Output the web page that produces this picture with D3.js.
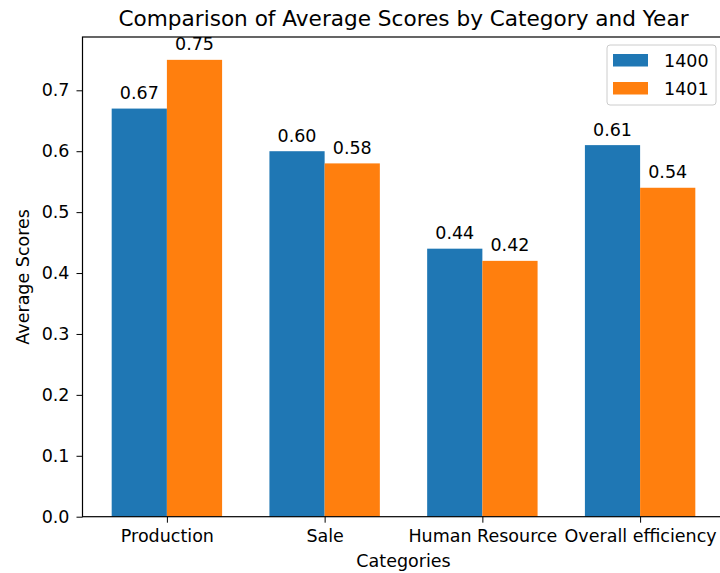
<!DOCTYPE html>
<html><head><meta charset="utf-8">
<script src="https://cdn.jsdelivr.net/npm/d3@7/dist/d3.min.js"></script>
<style>body{margin:0;background:#fff;} svg{display:block;font-family:"DejaVu Sans",sans-serif;}</style>
</head><body>
<svg id="c" width="720" height="573"></svg>
<script>
const categories = ["Production", "Sale", "Human Resource", "Overall efficiency"];
const years = ["1400", "1401"];
const values1400 = [0.67, 0.60, 0.44, 0.61];
const values1401 = [0.75, 0.58, 0.42, 0.54];
const yTicks = [0.0, 0.1, 0.2, 0.3, 0.4, 0.5, 0.6, 0.7];
const colors = ["#1f77b4", "#ff7f0e"];
const title = "Comparison of Average Scores by Category and Year";
const xLabel = "Categories";
const yLabel = "Average Scores";

(function(){
const series = [values1400, values1401];
const svg = d3.select("#c");
const mL = 82.5, mR = 724.5, mT = 37, mB = 516.7;
const fs = 17.5;
const barW = 0.35;
const x = d3.scaleLinear().domain([-0.535, categories.length - 1 + 0.535]).range([mL, mR]);
const y = d3.scaleLinear().domain([0, 0.7875]).range([mB, mT]);

series.forEach((vals, si) => {
  const off = si === 0 ? -barW/2 : barW/2;
  svg.append("g").selectAll("rect").data(vals).join("rect")
    .attr("x", (d,i) => x(i + off - barW/2))
    .attr("width", (d,i) => x(i + off + barW/2) - x(i + off - barW/2))
    .attr("y", d => y(d))
    .attr("height", d => y(0) - y(d))
    .attr("fill", colors[si]);
  svg.append("g").selectAll("text").data(vals).join("text")
    .attr("x", (d,i) => x(i + off))
    .attr("y", d => y(d) - 9.5)
    .attr("text-anchor", "middle")
    .attr("font-size", fs)
    .attr("fill", "#000")
    .text(d => d.toFixed(2));
});

const yAxis = d3.axisLeft(y).tickValues(yTicks).tickFormat(d3.format(".1f")).tickSize(6).tickPadding(7);
const gy = svg.append("g").attr("transform", `translate(${mL},0)`).call(yAxis);
gy.select(".domain").remove();
gy.selectAll("text").attr("font-size", fs).attr("font-family", "DejaVu Sans").attr("fill", "#000");
gy.selectAll("line").attr("stroke", "#000");

const xAxis = d3.axisBottom(x).tickValues(d3.range(categories.length)).tickFormat(i => categories[i]).tickSize(6).tickPadding(7);
const gx = svg.append("g").attr("transform", `translate(0,${mB})`).call(xAxis);
gx.select(".domain").remove();
gx.selectAll("text").attr("font-size", fs).attr("font-family", "DejaVu Sans").attr("fill", "#000");
gx.selectAll("line").attr("stroke", "#000");

svg.append("rect").attr("x", mL).attr("y", mT).attr("width", mR-mL).attr("height", mB-mT)
  .attr("fill", "none").attr("stroke", "#000").attr("stroke-width", 1.2);

svg.append("text").attr("x", (mL+mR)/2).attr("y", 26).attr("text-anchor", "middle")
  .attr("font-size", 21.6).text(title);
svg.append("text").attr("x", (mL+mR)/2).attr("y", 567).attr("text-anchor", "middle")
  .attr("font-size", fs).text(xLabel);
svg.append("text").attr("transform", `translate(29,${(mT+mB)/2}) rotate(-90)`).attr("text-anchor", "middle")
  .attr("font-size", fs).text(yLabel);

const lg = svg.append("g");
lg.append("rect").attr("x", 607).attr("y", 45).attr("width", 109).attr("height", 60).attr("rx", 3)
  .attr("fill", "#fff").attr("fill-opacity", 0.8).attr("stroke", "#ccc");
years.forEach((yr, i) => {
  lg.append("rect").attr("x", 613).attr("y", 54 + i*28).attr("width", 35).attr("height", 12.5).attr("fill", colors[i]);
  lg.append("text").attr("x", 664).attr("y", 67 + i*28).attr("font-size", fs).text(yr);
});
})();
</script>
</body></html>
